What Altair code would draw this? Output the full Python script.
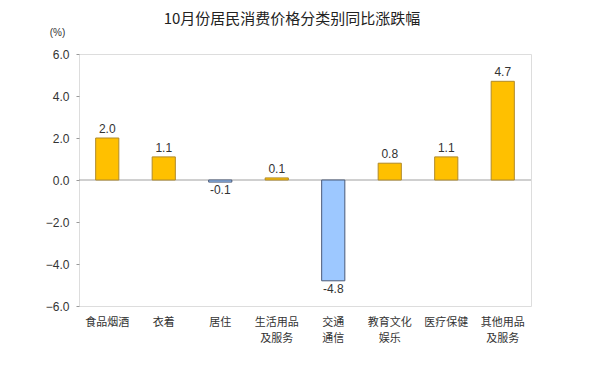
import altair as alt
import pandas as pd

categories = ["食品烟酒", "衣着", "居住", "生活用品\n及服务", "交通\n通信", "教育文化\n娱乐", "医疗保健", "其他用品\n及服务"]
values = [2.0, 1.1, -0.1, 0.1, -4.8, 0.8, 1.1, 4.7]
y_ticks = [-6, -4, -2, 0, 2, 4, 6]

df = pd.DataFrame({"cat": categories, "val": values})
df["sign"] = ["pos" if v >= 0 else "neg" for v in values]
df["lbl"] = [f"{v:.1f}" for v in values]

x_enc = alt.X("cat:N", sort=categories, title=None,
              scale=alt.Scale(paddingInner=0.59, paddingOuter=0.295),
              axis=alt.Axis(labelExpr="split(datum.label, '\\n')", labelAngle=0,
                            labelFont="Noto Sans CJK SC", labelFontSize=11,
                            labelColor="#333333", ticks=False, domain=False,
                            labelPadding=10, labelLineHeight=16, labelBaseline="top"))
y_scale = alt.Scale(domain=[-6, 6], nice=False)

bars = alt.Chart(df).mark_bar(strokeWidth=1).encode(
    x=x_enc,
    y=alt.Y("val:Q", scale=y_scale, title="(%)",
            axis=alt.Axis(values=y_ticks, format=".1f", grid=False,
                          domain=False, tickSize=3, tickColor="#999999",
                          labelFont="Liberation Sans", labelFontSize=12,
                          labelColor="#333333", labelPadding=7,
                          titleAngle=0, titleX=-22, titleY=-17,
                          titleAlign="center", titleFont="Liberation Sans",
                          titleFontSize=10, titleFontWeight="normal",
                          titleColor="#333333")),
    y2=alt.datum(0),
    color=alt.Color("sign:N", scale=alt.Scale(domain=["pos", "neg"], range=["#FFC000", "#9DC8FF"]), legend=None),
    stroke=alt.Stroke("sign:N", scale=alt.Scale(domain=["pos", "neg"], range=["#B08A2A", "#4A5A78"]), legend=None),
)

zero = alt.Chart(pd.DataFrame({"z": [0]})).mark_rule(color="#A0A0A0", strokeWidth=1).encode(y=alt.Y("z:Q", scale=y_scale))

txt_pos = alt.Chart(df).transform_filter("datum.val >= 0").mark_text(
    baseline="bottom", dy=-2, font="Liberation Sans", fontSize=12, color="#333333"
).encode(x=alt.X("cat:N", sort=categories), y=alt.Y("val:Q", scale=y_scale), text="lbl:N")

txt_neg = alt.Chart(df).transform_filter("datum.val < 0").mark_text(
    baseline="top", dy=3, font="Liberation Sans", fontSize=12, color="#333333"
).encode(x=alt.X("cat:N", sort=categories), y=alt.Y("val:Q", scale=y_scale), text="lbl:N")

chart = alt.layer(zero, bars, txt_pos, txt_neg).properties(
    width=452, height=252,
    autosize=alt.AutoSizeParams(type="none"),
    padding={"left": 71, "top": 46, "right": 60, "bottom": 60},
    title=alt.TitleParams("10月份居民消费价格分类别同比涨跌幅", font="Noto Sans CJK SC",
                          fontSize=15, fontWeight="normal", color="#222222",
                          anchor="middle", dx=-13, offset=0),
).configure_view(stroke="#A0A0A0", strokeWidth=1.2).configure(background="white")

chart.save("out.html", embed_options={"renderer": "svg", "actions": False})
